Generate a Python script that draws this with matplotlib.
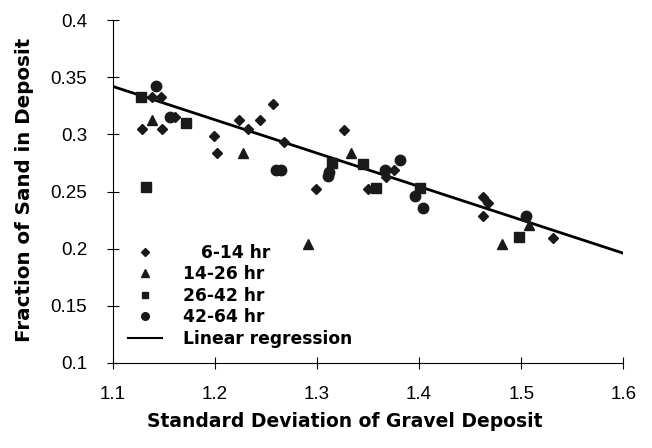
import matplotlib.pyplot as plt
from matplotlib.lines import Line2D

plt.rcParams['font.family'] = ['Liberation Sans', 'DejaVu Sans']

# 6-14 hr (diamonds)
d_x = [1.138, 1.147, 1.129, 1.148, 1.161, 1.199, 1.202, 1.224, 1.232, 1.244, 1.257,
       1.268, 1.299, 1.326, 1.350, 1.368, 1.375, 1.463, 1.467, 1.463, 1.531]
d_y = [0.333, 0.333, 0.305, 0.305, 0.315, 0.299, 0.284, 0.313, 0.305, 0.313, 0.327,
       0.293, 0.252, 0.304, 0.252, 0.263, 0.269, 0.245, 0.240, 0.229, 0.209]

# 14-26 hr (triangles)
t_x = [1.138, 1.228, 1.291, 1.333, 1.508, 1.481]
t_y = [0.313, 0.284, 0.204, 0.284, 0.221, 0.204]

# 26-42 hr (squares)
s_x = [1.128, 1.172, 1.133, 1.315, 1.345, 1.358, 1.401, 1.498]
s_y = [0.333, 0.310, 0.254, 0.275, 0.274, 0.253, 0.253, 0.210]

# 42-64 hr (circles)
c_x = [1.142, 1.156, 1.260, 1.265, 1.312, 1.311, 1.381, 1.367, 1.396, 1.404, 1.505]
c_y = [0.342, 0.315, 0.269, 0.269, 0.267, 0.264, 0.278, 0.269, 0.246, 0.236, 0.229]

# linear regression end points
reg_x = [1.1, 1.6]
reg_y = [0.342, 0.196]

x_ticks = [1.1, 1.2, 1.3, 1.4, 1.5, 1.6]
y_ticks = [0.1, 0.15, 0.2, 0.25, 0.3, 0.35, 0.4]

fig = plt.figure(figsize=(6.52, 4.48), dpi=100)
ax = fig.add_axes([0.173, 0.190, 0.783, 0.765])

col = '#1a1a1a'
ax.plot(reg_x, reg_y, color='black', lw=2, zorder=2)
ax.plot(d_x, d_y, 'D', color=col, ms=5.5, mec=col, ls='none', zorder=3)
ax.plot(t_x, t_y, '^', color=col, ms=7, mec=col, ls='none', zorder=3)
ax.plot(s_x, s_y, 's', color=col, ms=6.5, mec=col, ls='none', zorder=3)
ax.plot(c_x, c_y, 'o', color=col, ms=7.5, mec=col, ls='none', zorder=3)

ax.set_xlim(1.1, 1.6)
ax.set_ylim(0.1, 0.4)
ax.set_xticks(x_ticks)
ax.set_xticklabels(['1.1', '1.2', '1.3', '1.4', '1.5', '1.6'])
ax.set_yticks(y_ticks)
ax.set_yticklabels(['0.1', '0.15', '0.2', '0.25', '0.3', '0.35', '0.4'])
ax.tick_params(direction='inout', length=9, width=0.8, labelsize=13.5)
ax.tick_params(axis='x', pad=12)
ax.tick_params(axis='y', pad=14)
ax.spines['top'].set_visible(False)
ax.spines['right'].set_visible(False)
ax.spines['left'].set_linewidth(0.8)
ax.spines['bottom'].set_linewidth(0.8)

ax.set_xlabel('Standard Deviation of Gravel Deposit', family='DejaVu Sans',
              fontweight='bold', fontsize=13.5)
ax.xaxis.set_label_coords(0.455, -0.143)
ax.set_ylabel('Fraction of Sand in Deposit', family='DejaVu Sans',
              fontweight='bold', fontsize=14.3)
ax.yaxis.set_label_coords(-0.155, 0.505)

handles = [
    Line2D([], [], marker='D', color=col, ls='none', ms=4.5),
    Line2D([], [], marker='^', color=col, ls='none', ms=5.5),
    Line2D([], [], marker='s', color=col, ls='none', ms=5),
    Line2D([], [], marker='o', color=col, ls='none', ms=5.5),
    Line2D([], [], color='black', lw=1.5),
]
labels = ['   6-14 hr', '14-26 hr', '26-42 hr', '42-64 hr', 'Linear regression']
ax.legend(handles, labels, loc='lower left', bbox_to_anchor=(0.0, 0.0), frameon=False,
          prop={'family': 'DejaVu Sans', 'weight': 'bold', 'size': 12.3},
          handlelength=2.0, labelspacing=0.2, handletextpad=1.2, borderaxespad=0.5)

fig.savefig('out.png', dpi=100)
